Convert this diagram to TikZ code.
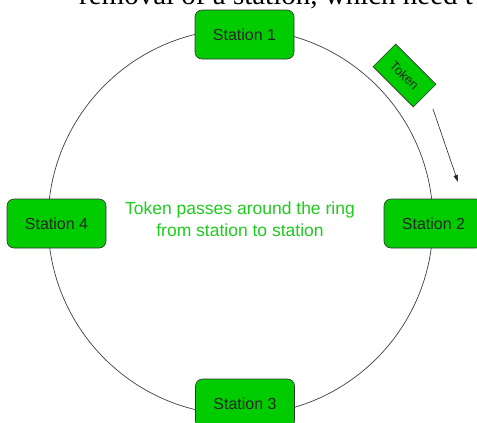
\documentclass[tikz,border=0pt]{standalone}
\usepackage{fontspec}
\setmainfont{Liberation Sans}
\newfontfamily\serifface{Liberation Serif}
\usetikzlibrary{arrows.meta}
\definecolor{stgreen}{HTML}{00CC00}
\definecolor{txtgreen}{HTML}{1ECC1E}
\begin{document}
\begin{tikzpicture}[x=1pt,y=1pt,
  stationbox/.style={draw=black!80, fill=stgreen, rounded corners=7pt, line width=0.6pt,
    minimum width=99pt, minimum height=49pt, inner sep=0pt,
    font=\fontsize{16}{19}\selectfont, text=black!85},
  tokenbox/.style={draw=black!80, fill=stgreen, line width=0.6pt, rotate=-45,
    minimum width=57pt, minimum height=32pt, inner sep=0pt,
    font=\fontsize{13}{15}\selectfont, text=black!85},
  ringline/.style={draw=black!75, line width=0.7pt},
  flow/.style={draw=black!85, line width=0.6pt, -{Triangle[length=7pt,width=4.5pt]}}]
\useasboundingbox (0,0) rectangle (477,-423);
\clip (0,0) rectangle (477,-423);
\fill[white] (0,0) rectangle (477,-423);
% cut-off caption text above
\node[anchor=base west, inner sep=0pt, font=\serifface\fontsize{29}{32}\selectfont] (caption) at (79,-5) {removal of a station, which need t};
% ring
\draw[ringline] (240.5,-222) ellipse [x radius=192.5, y radius=193];
% stations
\node[stationbox] (s1) at (244.5,-34.5) {Station 1};
\node[stationbox] (s2) at (433.5,-223.5) {Station 2};
\node[stationbox] (s3) at (245,-403.5) {Station 3};
\node[stationbox] (s4) at (56.5,-223.5) {Station 4};
% token
\node[tokenbox] (tok) at (404.5,-75.5) {Token};
\coordinate (arrS) at (433,-109);
\coordinate (arrE) at (458,-182);
\draw[flow] (arrS) -- (arrE);
% center text
\node[align=center, text=txtgreen, font=\fontsize{17.5}{22}\selectfont] (msg) at (240,-219) {Token passes around the ring\\from station to station};
\end{tikzpicture}
\end{document}
